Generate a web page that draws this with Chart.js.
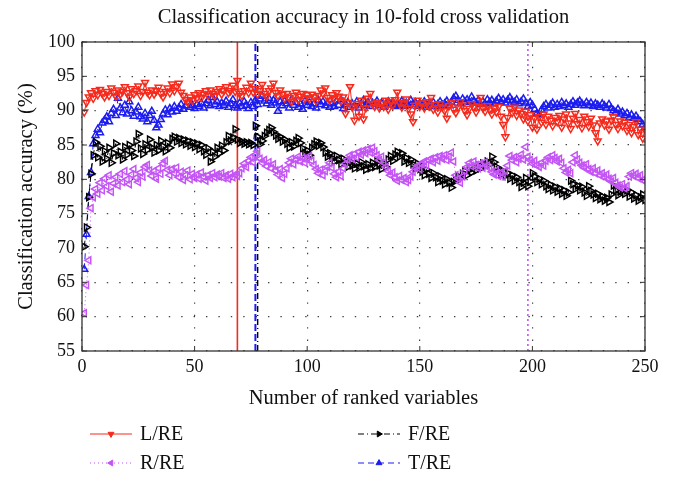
<!DOCTYPE html>
<html>
<head>
<meta charset="utf-8">
<script src="https://cdn.jsdelivr.net/npm/chart.js"></script>
<style>
  html, body { margin: 0; padding: 0; background: #fff; }
  #wrap { width: 674px; height: 482px; }
</style>
</head>
<body>
<div id="wrap"><canvas id="chart" width="674" height="482"></canvas></div>
<script>
const FONT = '"Liberation Serif", "DejaVu Serif", serif';

// classification accuracy (%) per number of ranked variables (1..250)
let lre = [
  89.8, 91.2, 92.0, 92.6, 91.8, 92.9, 92.3, 93.1, 92.5, 92.0,
  92.8, 92.2, 93.3, 92.7, 92.1, 93.0, 92.4, 92.8, 93.5, 92.6,
  92.0, 93.2, 92.5, 92.9, 93.6, 92.2, 92.8, 94.1, 92.7, 92.3,
  93.0, 92.4, 92.9, 93.4, 92.5, 92.0, 92.8, 93.3, 92.6, 93.9,
  92.9, 93.5, 94.0, 92.7, 92.2, 91.6, 91.2, 92.0, 91.5, 92.3,
  91.8, 92.6, 91.9, 92.4, 92.9, 92.2, 93.0, 92.5, 92.2, 92.8,
  93.2, 92.4, 92.9, 93.5, 92.6, 92.9, 93.7, 92.8, 94.4, 92.5,
  92.2, 92.9, 93.4, 92.6, 94.0, 92.7, 93.2, 92.4, 92.9, 93.8,
  92.5, 92.1, 92.9, 93.3, 94.0, 92.6, 92.2, 93.0, 92.4, 91.8,
  92.5, 91.9, 91.3, 92.2, 92.7, 91.6, 92.1, 92.5, 91.8, 92.3,
  91.7, 92.4, 92.0, 91.4, 92.2, 93.0, 92.5, 93.3, 91.9, 91.5,
  92.3, 91.8, 92.6, 92.1, 91.4, 92.0, 89.6, 91.2, 93.5, 90.5,
  88.6, 91.0, 89.2, 91.5, 88.8, 90.4, 91.8, 92.5, 91.0, 90.6,
  91.2, 90.4, 91.0, 90.6, 91.5, 90.2, 91.3, 90.8, 91.6, 92.7,
  91.2, 90.5, 91.0, 91.7, 90.3, 89.5, 88.4, 90.8, 91.5, 90.6,
  91.1, 90.4, 91.3, 90.7, 91.9, 90.2, 90.9, 89.8, 91.0, 90.5,
  90.0, 88.9, 90.7, 91.2, 90.2, 89.7, 90.5, 91.3, 90.8, 90.0,
  89.4, 90.3, 91.0, 90.5, 89.8, 90.6, 91.9, 90.4, 89.9, 90.7,
  90.1, 89.5, 90.4, 89.8, 90.6, 89.2, 88.0, 86.2, 89.0, 90.3,
  89.7, 90.5, 89.3, 90.1, 89.6, 88.8, 89.9, 88.5, 89.4, 87.6,
  88.9, 87.3, 89.1, 88.3, 89.5, 88.0, 89.2, 88.6, 87.8, 89.0,
  88.4, 89.3, 87.6, 88.8, 89.5, 88.2, 87.4, 88.9, 89.6, 88.1,
  88.7, 87.5, 89.2, 88.4, 87.7, 88.9, 87.9, 86.8, 85.6, 88.2,
  88.8, 87.9, 88.5, 87.3, 88.6, 89.1, 88.0, 87.4, 88.5, 87.8,
  88.3, 87.1, 88.0, 86.8, 87.7, 88.4, 86.5, 87.3, 86.0, 87.2
];
let rre = [
  60.5, 64.6, 68.2, 75.8, 77.4, 78.6, 77.9, 79.5, 78.4, 80.1,
  79.0, 80.6, 78.2, 79.4, 80.3, 79.1, 80.8, 79.6, 81.2, 80.0,
  79.3, 80.7, 81.5, 80.2, 79.6, 81.0, 80.4, 81.8, 82.1, 81.3,
  80.5, 81.2, 80.1, 81.6, 80.8, 82.3, 82.7, 81.4, 80.6, 81.5,
  80.9, 81.7, 80.3, 81.1, 79.9, 80.6, 81.3, 80.0, 80.8, 80.2,
  80.7, 80.1, 81.0, 80.4, 79.8, 80.6, 80.2, 80.9, 80.3, 80.7,
  80.4, 80.9, 80.2, 80.6, 80.1, 80.8, 80.3, 80.7, 80.5, 80.9,
  81.6, 82.3, 81.8, 82.7, 83.2, 82.5, 83.6, 84.1, 83.0, 82.4,
  82.8, 81.9, 82.5, 81.6, 82.2, 81.3, 80.7, 81.5, 80.2, 80.8,
  81.6, 82.4, 83.0, 82.2, 82.8, 83.3, 82.6, 83.1, 82.4, 82.9,
  83.4, 82.7, 82.1, 81.5, 80.9, 81.4, 80.6, 81.2, 81.8, 82.4,
  81.7, 80.8, 80.3, 81.1, 80.5, 81.6, 82.3, 82.9, 83.5, 83.0,
  83.7, 83.2, 84.0, 83.6, 84.2, 83.8, 84.4, 83.9, 84.6, 84.1,
  83.5, 82.8, 83.3, 82.4, 81.8, 81.2, 80.6, 81.0, 80.3, 79.8,
  80.5, 79.9, 80.2, 79.6, 79.9, 80.4, 81.1, 81.6, 82.0, 81.5,
  82.2, 82.6, 82.1, 82.8, 83.0, 82.5, 83.2, 82.7, 83.4, 83.0,
  83.5, 82.8, 83.3, 83.9, 82.6, 80.6, 80.1, 79.5, 80.4, 81.2,
  81.8, 82.4, 81.9, 82.6, 82.1, 81.6, 82.3, 81.7, 82.5, 82.0,
  81.6, 81.1, 80.7, 81.3, 80.5, 81.0, 80.4, 81.2, 82.0, 83.4,
  82.8, 83.2, 82.5, 83.0, 83.6, 82.9, 84.7, 83.3, 82.8, 82.3,
  82.7, 82.1, 81.8, 82.4, 82.0, 82.7, 83.2, 82.8, 83.5, 83.1,
  82.6, 83.0, 82.4, 81.6, 81.0, 81.4, 80.9, 82.5, 83.5, 82.9,
  82.4, 82.0, 81.7, 82.2, 81.5, 81.1, 81.6, 80.9, 81.3, 80.6,
  80.9, 80.3, 80.7, 80.1, 79.7, 80.2, 79.5, 79.1, 78.8, 79.3,
  78.7, 79.0, 80.4, 80.9, 80.5, 80.8, 80.2, 80.6, 79.9, 79.7
];
let fre = [
  70.2, 73.0, 77.4, 80.8, 83.5, 85.4, 83.2, 84.8, 82.6, 84.1,
  83.0, 84.6, 82.4, 83.8, 85.2, 83.5, 84.0, 82.9, 84.7, 83.6,
  85.0, 84.2, 83.4, 85.5, 86.6, 84.5, 83.7, 85.1, 84.3, 85.8,
  84.6, 83.9, 85.0, 84.2, 85.6, 84.8, 84.1, 85.3, 84.6, 85.9,
  86.2, 85.5, 86.0, 85.3, 85.8, 85.1, 85.6, 84.9, 85.4, 84.7,
  85.2, 84.4, 85.0, 84.1, 83.6, 84.5, 82.6, 84.0, 83.3, 84.6,
  83.8, 84.9, 84.2, 85.4, 86.3, 85.6, 86.1, 87.3, 85.8, 85.3,
  85.5, 85.2, 85.4, 85.1, 85.3, 85.0, 87.8, 86.2, 85.1, 85.6,
  86.3, 86.8, 87.2, 87.5, 86.9, 86.4, 85.9, 86.2, 85.5, 85.8,
  85.2, 84.6, 85.4, 84.8, 85.6, 86.0, 85.3, 84.5, 83.8, 84.2,
  83.5, 84.6, 85.1, 85.5, 84.9, 85.3, 84.7, 83.9, 83.3, 83.8,
  83.1, 82.6, 83.4, 82.8, 82.2, 83.0, 82.4, 81.8, 82.6, 82.0,
  81.6, 82.3, 81.7, 82.5, 81.9, 81.4, 82.2, 81.6, 82.4, 81.8,
  82.6, 82.0, 81.5, 82.3, 81.8, 82.9, 83.4, 82.7, 83.6, 84.0,
  83.3, 83.8, 82.6, 83.1, 82.4, 82.9, 82.2, 81.6, 82.3, 81.5,
  81.1, 80.6, 81.4, 80.8, 80.2, 80.9, 80.3, 79.6, 80.4, 79.8,
  79.3, 80.0, 79.5, 78.8, 79.6, 79.9, 80.5, 80.1, 80.8, 81.2,
  80.6, 81.4, 81.0, 81.7, 81.3, 82.0, 81.6, 82.3, 81.9, 82.6,
  82.2, 83.3, 82.5, 81.8, 81.3, 80.7, 81.2, 80.5, 80.9, 80.1,
  80.6, 79.8, 80.3, 79.6, 78.9, 79.5, 80.2, 79.0, 79.7, 80.9,
  80.4, 79.6, 80.1, 79.3, 79.8, 79.0, 78.6, 79.2, 78.4, 78.9,
  78.2, 78.7, 77.9, 78.4, 77.6, 78.1, 79.8, 79.3, 78.6, 79.1,
  78.4, 78.9, 78.1, 77.6, 79.0, 78.3, 77.8, 77.3, 77.9, 77.1,
  77.5, 76.9, 77.3, 76.7, 77.8, 79.1, 78.4, 77.7, 78.2, 78.6,
  77.9, 78.4, 77.5, 78.1, 77.2, 77.7, 76.9, 77.4, 77.8, 77.0
];
let tre = [
  66.9, 72.0, 77.5, 81.0, 85.2, 86.4, 87.3, 86.8, 88.2, 88.6,
  89.1, 88.4, 89.6, 90.2, 89.3, 91.8, 90.4, 89.7, 90.8, 89.5,
  91.3, 90.0, 89.2, 89.8, 90.5, 89.1, 88.8, 89.6, 88.4, 89.3,
  89.9, 88.6, 87.5, 87.9, 88.7, 89.5, 90.1, 89.4, 90.3, 89.8,
  90.6, 89.9, 90.4, 90.9, 90.2, 90.7, 91.2, 90.5, 90.8, 90.3,
  90.9, 90.6, 91.1, 90.4, 91.0, 91.5, 90.7, 91.9, 90.9, 91.3,
  90.6, 91.1, 90.8, 91.4, 90.5, 91.0, 91.6, 90.7, 90.4, 91.1,
  90.6, 91.3, 90.8, 90.3, 91.2, 90.6, 91.5, 90.9, 91.7, 92.1,
  91.4, 91.0, 91.8, 90.8, 91.5, 91.1, 89.9, 91.3, 90.7, 91.4,
  91.0, 90.4, 91.6, 90.8, 91.2, 90.5, 91.0, 90.2, 91.4, 90.8,
  91.2, 90.6, 91.0, 90.4, 91.5, 90.9, 91.3, 90.7, 91.1, 90.5,
  91.0, 90.6, 91.4, 90.8, 91.6, 90.3, 90.9, 91.2, 90.5, 91.0,
  90.7, 91.3, 90.4, 91.0, 91.5, 90.8, 91.2, 90.6, 91.1, 90.9,
  91.4, 90.7, 91.1, 90.5, 91.0, 91.3, 90.8, 91.2, 90.6, 91.0,
  90.8, 91.4, 90.6, 91.1, 90.7, 91.5, 90.9, 91.2, 90.6, 91.1,
  90.8, 91.3, 90.5, 91.0, 90.7, 91.2, 90.6, 90.9, 91.3, 90.8,
  91.0, 91.4, 90.7, 91.2, 91.8, 92.1, 91.5, 91.0, 91.7, 91.3,
  91.6, 91.2, 92.0, 91.4, 91.1, 91.5, 90.9, 91.3, 91.0, 91.6,
  91.2, 91.5, 91.0, 91.4, 91.8, 91.3, 91.6, 91.1, 91.5, 91.9,
  91.4, 91.2, 91.6, 91.0, 91.3, 91.7, 91.1, 90.6, 91.2, 90.8,
  90.2, 89.6, 89.4, 90.1, 90.6, 90.9, 90.4, 90.8, 91.1, 90.5,
  90.9, 90.6, 91.2, 90.7, 91.0, 90.5, 90.9, 91.3, 90.8, 91.1,
  91.4, 91.0, 90.7, 91.2, 90.8, 91.1, 90.6, 91.0, 90.8, 90.5,
  91.0, 90.7, 90.4, 90.9, 90.3, 90.0, 89.7, 90.2, 89.5, 89.8,
  89.3, 89.6, 89.0, 89.4, 88.9, 89.2, 88.7, 88.4, 88.0, 87.5
];

let numVars = lre.map(function (v, i) { return i + 1; });
let xTicks = [0, 50, 100, 150, 200, 250];
let yTicks = [55, 60, 65, 70, 75, 80, 85, 90, 95, 100];
// best number of variables for each method (vertical markers)
let bestL = 69, bestT = 77, bestF = 78, bestR = 198;

let red = "#f52a1c", violet = "#c455f5", blue = "#1c1cf0", black = "#000000";

function points(vals) {
  return vals.map(function (v, i) { return { x: numVars[i], y: v }; });
}
function vline(x) {
  return [{ x: x, y: yTicks[0] }, { x: x, y: yTicks[yTicks.length - 1] }];
}
function series(label, vals, color, rot, dash) {
  return {
    label: label, data: points(vals), borderColor: color, borderWidth: 1,
    borderDash: dash, pointStyle: "triangle", pointRotation: rot, pointRadius: 4,
    pointBorderColor: color, pointBackgroundColor: "rgba(255,255,255,0)",
    pointBorderWidth: 1.5, tension: 0
  };
}
function marker(x, color, width, dash) {
  return {
    label: "", data: vline(x), borderColor: color, borderWidth: width,
    borderDash: dash, pointRadius: 0
  };
}

let legendItems = [
  { ds: 0, col: 0, row: 0 },
  { ds: 1, col: 0, row: 1 },
  { ds: 2, col: 1, row: 0 },
  { ds: 3, col: 1, row: 1 }
];

let framePlugin = {
  id: "frame",
  afterDraw: function (chart) {
    let ctx = chart.ctx, a = chart.chartArea;
    let xs = chart.scales.x, ys = chart.scales.y;
    ctx.save();
    ctx.strokeStyle = "#333";
    ctx.lineWidth = 1.3;
    ctx.setLineDash([]);
    ctx.strokeRect(a.left, a.top, a.right - a.left, a.bottom - a.top);
    ctx.lineWidth = 1;
    ctx.beginPath();
    xTicks.forEach(function (t) {
      let px = xs.getPixelForValue(t);
      ctx.moveTo(px, a.bottom); ctx.lineTo(px, a.bottom - 5);
      ctx.moveTo(px, a.top); ctx.lineTo(px, a.top + 5);
    });
    yTicks.forEach(function (t) {
      let py = ys.getPixelForValue(t);
      ctx.moveTo(a.left, py); ctx.lineTo(a.left + 5, py);
      ctx.moveTo(a.right, py); ctx.lineTo(a.right - 5, py);
    });
    ctx.stroke();

    // titles
    ctx.fillStyle = "#111";
    ctx.font = "20.5px " + FONT;
    ctx.textAlign = "center";
    ctx.textBaseline = "middle";
    let cx = (a.left + a.right) / 2;
    ctx.fillText("Classification accuracy in 10-fold cross validation", cx, 18);
    ctx.fillText("Number of ranked variables", cx, 399);
    ctx.save();
    ctx.translate(27, (a.top + a.bottom) / 2);
    ctx.rotate(-Math.PI / 2);
    ctx.fillText("Classification accuracy (%)", 0, 0);
    ctx.restore();

    // legend
    ctx.textAlign = "left";
    legendItems.forEach(function (it) {
      let ds = chart.data.datasets[it.ds];
      let x0 = it.col === 0 ? 90 : 358;
      let y = 434 + it.row * 29;
      ctx.strokeStyle = ds.borderColor;
      ctx.fillStyle = ds.borderColor;
      ctx.lineWidth = 1;
      ctx.setLineDash(ds.borderDash || []);
      ctx.beginPath();
      ctx.moveTo(x0, y); ctx.lineTo(x0 + 42, y);
      ctx.stroke();
      ctx.setLineDash([]);
      Chart.helpers.drawPoint(ctx, {
        pointStyle: "triangle", rotation: ds.pointRotation, radius: 3.4, borderWidth: 1
      }, x0 + 21, y);
      ctx.fillStyle = "#111";
      ctx.font = "20px " + FONT;
      ctx.fillText(ds.label, x0 + 50, y + 1);
    });
    ctx.restore();
  }
};

new Chart(document.getElementById("chart"), {
  type: "line",
  data: {
    datasets: [
      series("L/RE", lre, red, 180, []),
      series("R/RE", rre, violet, 270, [1, 3]),
      series("F/RE", fre, black, 90, [6, 3, 1, 3]),
      series("T/RE", tre, blue, 0, [6, 4]),
      marker(bestL, red, 1.6, []),
      marker(bestF, black, 1.4, [6, 3, 1, 3]),
      marker(bestT, blue, 2, [7, 3]),
      marker(bestR, violet, 1.6, [2, 3])
    ]
  },
  options: {
    responsive: false,
    animation: false,
    devicePixelRatio: 1,
    layout: { padding: { top: 42, right: 29, bottom: 101, left: 0 } },
    plugins: { legend: { display: false }, title: { display: false }, tooltip: { enabled: false } },
    scales: {
      x: {
        type: "linear", min: 0, max: 250,
        afterFit: function (s) { s.height = 30; },
        afterBuildTicks: function (s) { s.ticks = xTicks.map(function (v) { return { value: v }; }); },
        grid: { color: "rgba(0,0,0,0.75)", lineWidth: 1.2, drawTicks: false },
        border: { display: false, dash: [1.4, 11] },
        ticks: { padding: 5, color: "#111", font: { family: FONT, size: 18 }, maxRotation: 0 }
      },
      y: {
        type: "linear", min: 55, max: 100,
        afterFit: function (s) { s.width = 82; },
        afterBuildTicks: function (s) { s.ticks = yTicks.map(function (v) { return { value: v }; }); },
        grid: { color: "rgba(0,0,0,0.75)", lineWidth: 1.2, drawTicks: false },
        border: { display: false, dash: [1.4, 11] },
        ticks: { padding: 7, color: "#111", font: { family: FONT, size: 18 } }
      }
    }
  },
  plugins: [framePlugin]
});
</script>
</body>
</html>
